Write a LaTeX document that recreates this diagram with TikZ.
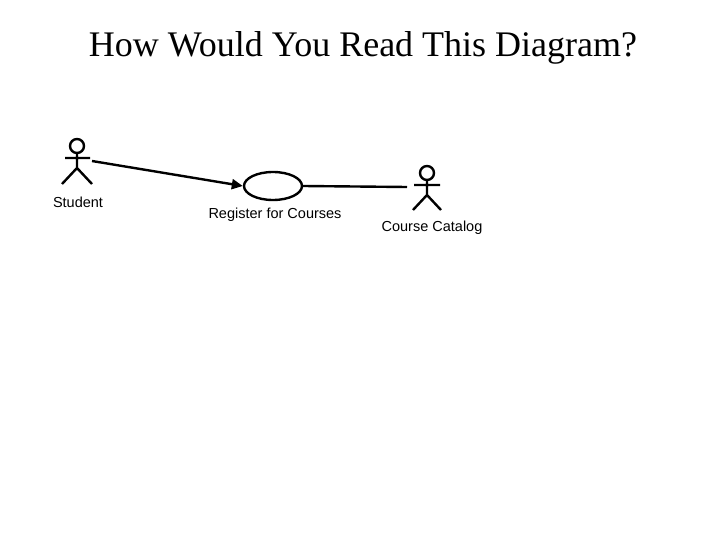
\documentclass[tikz,border=0pt]{standalone}
\usepackage{fontspec}
\setmainfont{Liberation Serif}
\newfontfamily\arial{Liberation Sans}
\usetikzlibrary{arrows.meta,shapes.geometric}
\begin{document}
\begin{tikzpicture}[x=1pt,y=-1pt,
  ln/.style={line width=2.4pt},
  lbl/.style={font=\arial\fontsize{14.5}{17}\selectfont}]
\useasboundingbox[fill=white] (0,0) rectangle (720,540);
\node (title) at (363,48) {\fontsize{36}{42}\selectfont How Would You Read This Diagram?};
% Student actor
\draw[ln] (77,146) circle (7);
\draw[ln] (77,153) -- (77,168) (65,158) -- (90,158) (62,184) -- (77,168) -- (92,184);
\coordinate (stu) at (92,161);
\node[lbl] (studentlbl) at (78,202) {Student};
% Use case
\node[draw,ln,ellipse,minimum width=58pt,minimum height=28pt,inner sep=0pt] (uc) at (273,186) {};
\node[lbl] (uclbl) at (275,215) {Register for Courses};
% Course Catalog actor
\draw[ln] (427,173) circle (7);
\draw[ln] (427,180) -- (427,195) (414,185) -- (440,185) (413,210) -- (427,195) -- (441,210);
\coordinate (cat) at (407,187);
\node[lbl] (catlbl) at (432,228) {Course Catalog};
% connectors
\draw[ln,-{Triangle[length=11pt,width=10pt]}] (stu) -- (uc.west);
\draw[ln] (uc.east) -- (cat);
\end{tikzpicture}
\end{document}
